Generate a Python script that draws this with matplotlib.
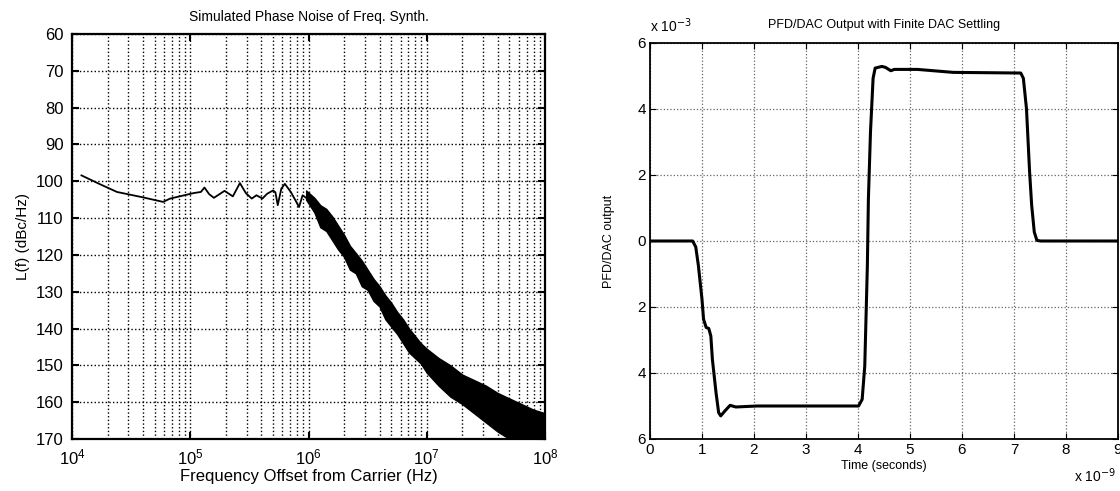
import numpy as np
import matplotlib
matplotlib.use("Agg")
import matplotlib.pyplot as plt
from matplotlib.ticker import LogLocator, NullFormatter

plt.rcParams['font.family'] = ['Liberation Sans', 'DejaVu Sans']

# --- left panel: simulated phase noise (log10 of offset freq, dBc/Hz shown positive)
pn_logf = [4.08, 4.23, 4.38, 4.59, 4.77, 4.83, 4.95, 5.03, 5.09, 5.12, 5.16, 5.20,
           5.29, 5.36, 5.42, 5.47, 5.52, 5.56, 5.61, 5.65, 5.70, 5.72, 5.74, 5.77,
           5.80, 5.85, 5.89, 5.92, 5.95, 5.98]
pn_level = [98.4, 100.7, 102.9, 104.3, 105.6, 104.7, 103.8, 103.2, 102.9, 101.7, 103.5, 104.5,
            102.6, 104.1, 100.5, 103.2, 104.7, 103.8, 104.7, 103.4, 102.5, 103.0, 106.5, 102.0,
            100.7, 102.9, 105.2, 107.0, 103.8, 104.5]

# noisy region drawn as a band between envelopes
band_logf = [5.98, 6.05, 6.10, 6.15, 6.20, 6.25, 6.30, 6.35, 6.40, 6.45, 6.50, 6.55,
             6.60, 6.65, 6.70, 6.75, 6.80, 6.85, 6.90, 6.95, 7.00, 7.10, 7.20, 7.30,
             7.40, 7.50, 7.60, 7.70, 7.80, 7.90, 8.00]
band_top = [102.5, 104.5, 106.5, 107.5, 109.5, 112.0, 114.5, 117.5, 119.5, 121.5, 124.0, 126.5,
            128.5, 131.0, 133.0, 135.5, 137.5, 140.0, 142.0, 144.0, 145.5, 148.0, 150.0, 152.5,
            154.0, 155.5, 157.5, 159.0, 160.5, 162.0, 163.0]
band_bot = [105.0, 108.5, 112.5, 113.5, 116.0, 118.5, 120.5, 124.0, 125.0, 128.5, 129.5, 132.5,
            134.0, 137.5, 139.5, 141.5, 144.0, 146.5, 148.0, 149.5, 152.0, 155.5, 158.5, 160.5,
            163.0, 165.5, 168.0, 170.0, 170.0, 170.0, 170.0]

# --- right panel: PFD/DAC output (time in 1e-9 s, output in 1e-3)
dac_t = [0.0, 0.82, 0.88, 0.93, 1.00, 1.03, 1.08, 1.13, 1.17, 1.20, 1.27, 1.32, 1.36,
         1.44, 1.54, 1.65, 2.06, 3.09, 4.01, 4.08, 4.13, 4.18, 4.20, 4.24, 4.29, 4.33,
         4.46, 4.53, 4.63, 4.70, 5.14, 5.83, 7.13, 7.18, 7.24, 7.30, 7.34, 7.39, 7.44,
         7.51, 9.0]
dac_out = [0.0, 0.0, -0.18, -0.74, -1.77, -2.37, -2.62, -2.65, -2.88, -3.59, -4.60, -5.20, -5.30,
           -5.15, -4.98, -5.03, -5.00, -5.00, -5.00, -4.80, -3.79, -0.75, 1.28, 3.30, 4.93, 5.24,
           5.29, 5.26, 5.16, 5.20, 5.20, 5.11, 5.09, 4.93, 4.01, 2.09, 1.08, 0.27, 0.02,
           0.0, 0.0]
dac_yticks = [6, 4, 2, 0, -2, -4, -6]
dac_yticklabels = ['6', '4', '2', '0', '2', '4', '6']

fig = plt.figure(figsize=(11.2, 4.91), dpi=100)

ax1 = fig.add_axes([72/1120, 52/491, 473/1120, 405/491])
f_line = 10 ** np.array(pn_logf)
ax1.plot(f_line, pn_level, color='black', lw=1.3)
f_band = 10 ** np.array(band_logf)
ax1.fill_between(f_band, band_top, band_bot, color='black', lw=1.0)
ax1.set_xscale('log')
ax1.set_xlim(1e4, 1e8)
ax1.set_ylim(170, 60)
ax1.set_yticks(np.arange(60, 171, 10))
ax1.xaxis.set_minor_locator(LogLocator(base=10, subs=np.arange(2, 10)))
ax1.xaxis.set_minor_formatter(NullFormatter())
ax1.grid(True, which='major', ls=':', color='black', lw=1.0)
ax1.grid(True, which='minor', axis='x', ls=':', color='black', lw=1.0)
ax1.tick_params(direction='in', top=True, right=True, labelsize=12, width=1.5, length=5, pad=6)
ax1.tick_params(which='minor', direction='in', top=True, length=0)
for s in ax1.spines.values():
    s.set_linewidth(1.6)
ax1.set_title('Simulated Phase Noise of Freq. Synth.', fontsize=10, pad=9)
ax1.set_xlabel('Frequency Offset from Carrier (Hz)', fontsize=12, labelpad=1)
ax1.set_ylabel('L(f) (dBc/Hz)', fontsize=11, labelpad=4)

ax2 = fig.add_axes([650/1120, 52/491, 468/1120, 396/491])
ax2.plot(dac_t, dac_out, color='black', lw=2.2)
ax2.set_xlim(0, 9)
ax2.set_ylim(-6, 6)
ax2.set_xticks(range(10))
ax2.set_yticks(dac_yticks)
ax2.set_yticklabels(dac_yticklabels)
ax2.grid(True, ls=':', color='#666666', lw=0.9)
ax2.tick_params(direction='in', top=True, right=True, labelsize=11, length=4, pad=3)
for s in ax2.spines.values():
    s.set_linewidth(1.3)
ax2.set_title('PFD/DAC Output with Finite DAC Settling', fontsize=9, pad=11)
ax2.set_xlabel('Time (seconds)', fontsize=9, labelpad=2)
ax2.set_ylabel('PFD/DAC output', fontsize=9, labelpad=16)
ax2.text(0.0, 1.02, 'x 10$^{-3}$', transform=ax2.transAxes, fontsize=10, ha='left', va='bottom')
ax2.text(0.995, -0.07, 'x 10$^{-9}$', transform=ax2.transAxes, fontsize=10, ha='right', va='top')

fig.savefig('out.png', dpi=100)
